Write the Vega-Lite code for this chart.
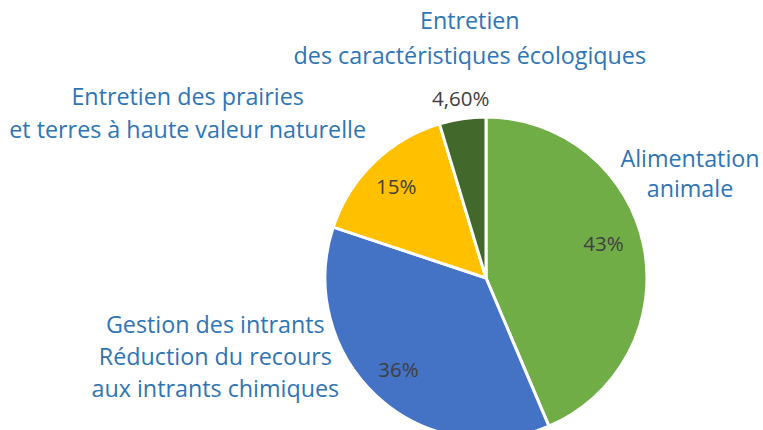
{
  "$schema": "https://vega.github.io/schema/vega-lite/v6.json",
  "autosize": {"type": "none"},
  "width": 554,
  "height": 304,
  "padding": {"left": 209, "top": 126, "right": 0, "bottom": 0},
  "background": "white",
  "config": {"view": {"stroke": null}, "text": {"font": "Open Sans"}},
  "data": {
    "values": [
      {"o": 1, "name": "Alimentation animale", "value": 43, "pct": "43%", "label": "Alimentation\nanimale"},
      {"o": 2, "name": "Gestion des intrants", "value": 36, "pct": "36%", "label": "Gestion des intrants\nRéduction du recours\naux intrants chimiques"},
      {"o": 3, "name": "Entretien des prairies", "value": 15, "pct": "15%", "label": "Entretien des prairies\net terres à haute valeur naturelle"},
      {"o": 4, "name": "Entretien des caractéristiques", "value": 4.6, "pct": "4,60%", "label": "Entretien\ndes caractéristiques écologiques"}
    ]
  },
  "encoding": {
    "theta": {"field": "value", "type": "quantitative", "stack": true},
    "order": {"field": "o", "type": "quantitative"}
  },
  "layer": [
    {
      "mark": {"type": "arc", "outerRadius": 161, "stroke": "white", "strokeWidth": 3},
      "encoding": {
        "color": {
          "field": "name", "type": "nominal", "legend": null,
          "scale": {
            "domain": ["Alimentation animale", "Gestion des intrants", "Entretien des prairies", "Entretien des caractéristiques"],
            "range": ["#70AD47", "#4472C4", "#FFC000", "#43682B"]
          }
        }
      }
    },
    {
      "mark": {"type": "text", "radius": 122, "dx": -2, "dy": -9, "fontSize": 20.5, "color": "#404040"},
      "encoding": {"text": {"condition": {"test": "datum.o === 1", "field": "pct"}, "value": ""}}
    },
    {
      "mark": {"type": "text", "radius": 126, "dx": -2, "fontSize": 20.5, "color": "#404040"},
      "encoding": {"text": {"condition": {"test": "datum.o === 2 || datum.o === 3", "field": "pct"}, "value": ""}}
    },
    {
      "mark": {"type": "text", "radius": 180, "dx": 1, "fontSize": 20.5, "color": "#404040"},
      "encoding": {"text": {"condition": {"test": "datum.o === 4", "field": "pct"}, "value": ""}}
    },
    {
      "mark": {"type": "text", "radius": 200, "dx": 8, "dy": -78, "fontSize": 23.3, "lineHeight": 30, "lineBreak": "\n", "color": "#2E75B6"},
      "encoding": {"text": {"condition": {"test": "datum.o === 1", "field": "label"}, "value": ""}}
    },
    {
      "mark": {"type": "text", "radius": 200, "dx": -135, "dy": -99, "fontSize": 23.3, "lineHeight": 32, "lineBreak": "\n", "color": "#2E75B6"},
      "encoding": {"text": {"condition": {"test": "datum.o === 2", "field": "label"}, "value": ""}}
    },
    {
      "mark": {"type": "text", "radius": 200, "dx": -159, "dy": -37, "fontSize": 23.3, "lineHeight": 33, "lineBreak": "\n", "color": "#2E75B6"},
      "encoding": {"text": {"condition": {"test": "datum.o === 3", "field": "label"}, "value": ""}}
    },
    {
      "mark": {"type": "text", "radius": 200, "dx": 13, "dy": -58, "fontSize": 23.3, "lineHeight": 35, "lineBreak": "\n", "color": "#2E75B6"},
      "encoding": {"text": {"condition": {"test": "datum.o === 4", "field": "label"}, "value": ""}}
    }
  ]
}
